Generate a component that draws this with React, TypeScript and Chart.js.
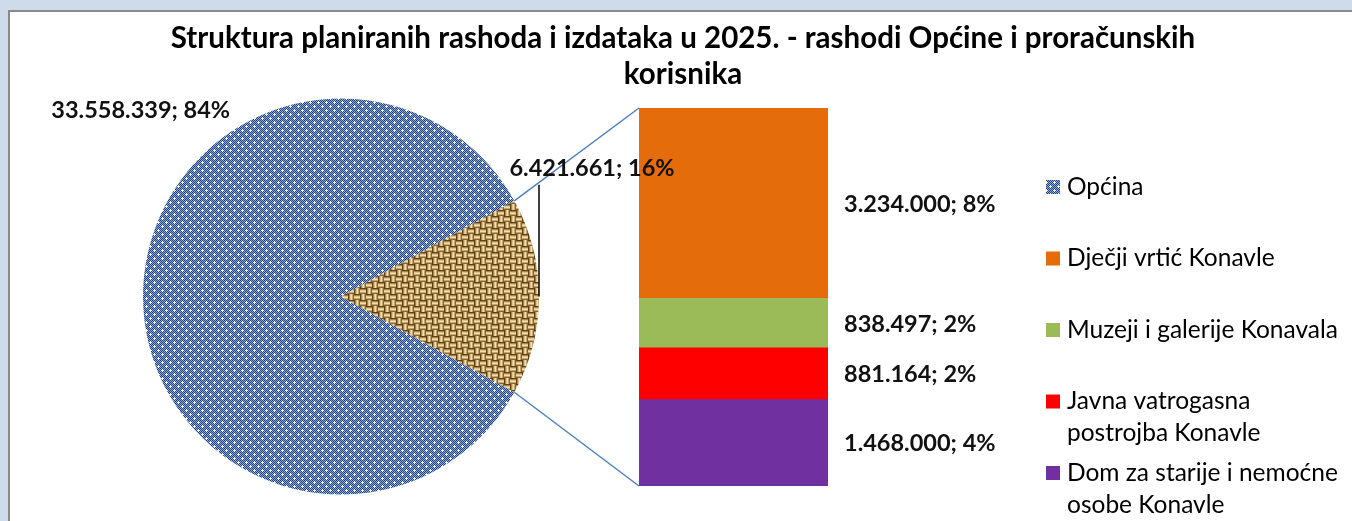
import React, { useEffect, useRef } from "react";
import { Chart, registerables } from "chart.js";

Chart.register(...registerables);

// ---------- data ----------
const TITLE_LINES = [
  "Struktura planiranih rashoda i izdataka u 2025. - rashodi Općine i proračunskih",
  "korisnika",
];
const PIE_CATEGORIES = ["Općina", "Proračunski korisnici"];
const OPCINA_VALUE = 33558339;
const USER_CATEGORIES = [
  "Dječji vrtić Konavle",
  "Muzeji i galerije Konavala",
  "Javna vatrogasna postrojba Konavle",
  "Dom za starije i nemoćne osobe Konavle",
];
const USER_VALUES = [3234000, 838497, 881164, 1468000];
const USER_COLORS = ["#E46C0A", "#9BBB59", "#FF0000", "#7030A0"];

// ---------- layout ----------
const W = 1352;
const H = 521;
const FONT = "Lato, 'Liberation Sans', sans-serif";
const TITLE_FONT = `bold 29.5px ${FONT}`;
const LABEL_FONT = `bold 23.5px ${FONT}`;
const LEGEND_FONT = `24.5px ${FONT}`;

const usersTotal = USER_VALUES.reduce((a, b) => a + b, 0);
const grandTotal = OPCINA_VALUE + usersTotal;

const fmt = (v: number) =>
  Math.round(v)
    .toString()
    .replace(/\B(?=(\d{3})+(?!\d))/g, ".");
const pct = (v: number) => Math.round((v / grandTotal) * 100) + "%";
const labelOf = (v: number) => `${fmt(v)}; ${pct(v)}`;

function makeBluePattern(ctx: CanvasRenderingContext2D) {
  const c = document.createElement("canvas");
  c.width = 8;
  c.height = 8;
  const g = c.getContext("2d")!;
  for (let y = 0; y < 8; y++) {
    for (let x = 0; x < 8; x++) {
      g.fillStyle = (x + y) % 2 === 0 ? "#1f4383" : "#93aad4";
      g.fillRect(x, y, 1, 1);
    }
  }
  g.fillStyle = "#ffffff";
  g.fillRect(1, 2, 3, 1);
  g.fillRect(2, 1, 1, 3);
  g.fillRect(5, 6, 3, 1);
  g.fillRect(6, 5, 1, 3);
  return ctx.createPattern(c, "repeat")!;
}

function makeTanPattern(ctx: CanvasRenderingContext2D) {
  const B = 6;
  const N = 4;
  const c = document.createElement("canvas");
  c.width = B * N;
  c.height = B * N;
  const g = c.getContext("2d")!;
  const shades = ["#5e4018", "#a8844c", "#dcc189", "#f1dfae", "#c6a46a", "#876634"];
  for (let by = 0; by < N; by++) {
    for (let bx = 0; bx < N; bx++) {
      const horizontal = (bx + by) % 2 === 0;
      for (let dy = 0; dy < B; dy++) {
        for (let dx = 0; dx < B; dx++) {
          const k = horizontal ? dy : dx;
          g.fillStyle = shades[k];
          g.fillRect(bx * B + dx, by * B + dy, 1, 1);
        }
      }
    }
  }
  return ctx.createPattern(c, "repeat")!;
}

function wrap(ctx: CanvasRenderingContext2D, text: string, maxW: number) {
  const words = text.split(" ");
  const lines: string[] = [];
  let cur = "";
  for (const w of words) {
    const t = cur ? cur + " " + w : w;
    if (ctx.measureText(t).width > maxW && cur) {
      lines.push(cur);
      cur = w;
    } else cur = t;
  }
  if (cur) lines.push(cur);
  return lines;
}

export default function App() {
  const pieRef = useRef<HTMLCanvasElement>(null);
  const barRef = useRef<HTMLCanvasElement>(null);

  useEffect(() => {
    const pieCanvas = pieRef.current!;
    const barCanvas = barRef.current!;
    const pctx = pieCanvas.getContext("2d")!;
    const bluePattern = makeBluePattern(pctx);
    const tanPattern = makeTanPattern(pctx);

    const order = USER_VALUES.map((_, i) => i).reverse(); // bottom -> top

    const barLabels = {
      id: "barLabels",
      afterDatasetsDraw(chart: any) {
        const ctx = chart.ctx;
        ctx.save();
        ctx.font = LABEL_FONT;
        ctx.fillStyle = "#111";
        ctx.textAlign = "left";
        ctx.textBaseline = "middle";
        chart.data.datasets.forEach((ds: any, di: number) => {
          const el: any = chart.getDatasetMeta(di).data[0];
          const v = ds.data[0];
          ctx.fillText(labelOf(v), el.x + el.width / 2 + 16, (el.y + el.base) / 2 + 1);
        });
        ctx.restore();
      },
    };

    const bar = new Chart(barCanvas, {
      type: "bar",
      data: {
        labels: [""],
        datasets: order.map((i) => ({
          label: USER_CATEGORIES[i],
          data: [USER_VALUES[i]],
          backgroundColor: USER_COLORS[i],
          borderWidth: 0,
          barPercentage: 1,
          categoryPercentage: 1,
        })),
      },
      options: {
        responsive: false,
        animation: false,
        events: [],
        layout: { padding: { left: 639, right: W - 828, top: 108, bottom: H - 486 } },
        scales: {
          x: { stacked: true, display: false },
          y: { stacked: true, display: false, min: 0, max: usersTotal },
        },
        plugins: { legend: { display: false }, tooltip: { enabled: false } },
      },
      plugins: [barLabels],
    });

    const decorations = {
      id: "decorations",
      afterDraw(chart: any) {
        const ctx = chart.ctx;
        const meta = chart.getDatasetMeta(0);
        const a1: any = meta.data[1];
        const cx = a1.x;
        const cy = a1.y;
        const r = a1.outerRadius;
        ctx.save();

        // title
        ctx.font = TITLE_FONT;
        ctx.fillStyle = "#000";
        ctx.textAlign = "center";
        ctx.textBaseline = "middle";
        TITLE_LINES.forEach((t, i) => ctx.fillText(t, 683, 38 + i * 36));

        // connectors to bar
        const bmeta = bar.getDatasetMeta(0).data[0] as any;
        const topMeta = bar.getDatasetMeta(order.length - 1).data[0] as any;
        const barLeft = bmeta.x - bmeta.width / 2;
        const barTop = topMeta.y;
        const barBottom = bmeta.base;
        ctx.strokeStyle = "#4F81BD";
        ctx.lineWidth = 1.5;
        ctx.beginPath();
        ctx.moveTo(cx + r * Math.cos(a1.startAngle), cy + r * Math.sin(a1.startAngle));
        ctx.lineTo(barLeft, barTop);
        ctx.moveTo(cx + r * Math.cos(a1.endAngle), cy + r * Math.sin(a1.endAngle));
        ctx.lineTo(barLeft, barBottom);
        ctx.stroke();

        // pie labels
        ctx.font = LABEL_FONT;
        ctx.fillStyle = "#111";
        ctx.textAlign = "right";
        ctx.fillText(labelOf(OPCINA_VALUE), cx - 0.56 * r, cy - 0.94 * r);
        ctx.textAlign = "center";
        const ly = cy - 0.645 * r;
        ctx.fillText(labelOf(usersTotal), cx + r + 53, ly);
        // leader line
        ctx.strokeStyle = "#000";
        ctx.lineWidth = 1.5;
        ctx.beginPath();
        ctx.moveTo(cx + r, cy);
        ctx.lineTo(cx + r, ly + 16);
        ctx.stroke();

        // legend
        ctx.font = LEGEND_FONT;
        ctx.textAlign = "left";
        ctx.textBaseline = "middle";
        const entries = [
          { text: PIE_CATEGORIES[0], fill: bluePattern as any },
          ...USER_CATEGORIES.map((t, i) => ({ text: t, fill: USER_COLORS[i] as any })),
        ];
        entries.forEach((e, i) => {
          const y0 = 187 + i * 71.5;
          ctx.fillStyle = e.fill;
          ctx.fillRect(1046, y0 - 7, 14, 14);
          ctx.fillStyle = "#000";
          wrap(ctx, e.text, 285).forEach((ln, j) => ctx.fillText(ln, 1067, y0 + j * 32));
        });
        ctx.restore();
      },
    };

    const pie = new Chart(pieCanvas, {
      type: "pie",
      data: {
        labels: PIE_CATEGORIES,
        datasets: [
          {
            data: [OPCINA_VALUE, usersTotal],
            backgroundColor: [bluePattern, tanPattern] as any,
            borderWidth: 0,
          },
        ],
      },
      options: {
        responsive: false,
        animation: false,
        events: [],
        rotation: 90 + (usersTotal / grandTotal) * 180,
        layout: { padding: { left: 143, right: W - 539, top: 98, bottom: H - 495 } },
        plugins: { legend: { display: false }, tooltip: { enabled: false } },
      },
      plugins: [decorations],
    });

    return () => {
      pie.destroy();
      bar.destroy();
    };
  }, []);

  return (
    <div
      style={{
        position: "fixed",
        left: 0,
        top: 0,
        width: W,
        height: H,
        background: "#cddce8",
        overflow: "hidden",
      }}
    >
      <div
        style={{
          position: "absolute",
          left: 8,
          top: 10,
          right: 0,
          bottom: 0,
          background: "#ffffff",
          borderLeft: "2px solid #8a8a8a",
          borderTop: "2px solid #8a8a8a",
        }}
      />
      <canvas ref={barRef} width={W} height={H} style={{ position: "absolute", left: 0, top: 0 }} />
      <canvas ref={pieRef} width={W} height={H} style={{ position: "absolute", left: 0, top: 0 }} />
    </div>
  );
}
